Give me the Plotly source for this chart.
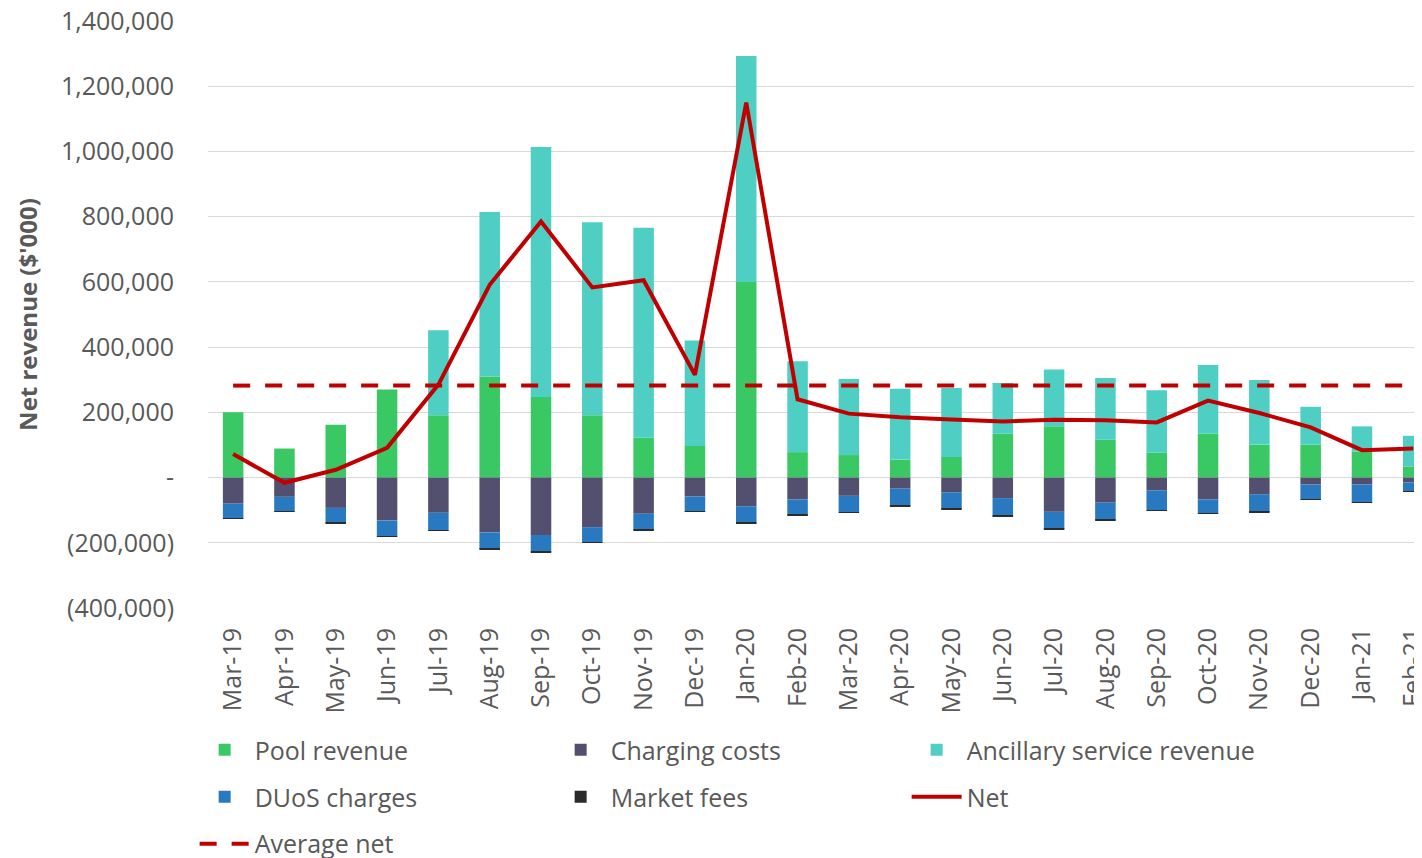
import plotly.graph_objects as go

months = ["Mar-19", "Apr-19", "May-19", "Jun-19", "Jul-19", "Aug-19", "Sep-19", "Oct-19",
          "Nov-19", "Dec-19", "Jan-20", "Feb-20", "Mar-20", "Apr-20", "May-20", "Jun-20",
          "Jul-20", "Aug-20", "Sep-20", "Oct-20", "Nov-20", "Dec-20", "Jan-21", "Feb-21"]

pool_revenue = [200000, 89000, 162000, 270000, 191000, 310000, 247000, 191000,
                122000, 97000, 600000, 78000, 69000, 55000, 63000, 134000,
                157000, 116000, 76000, 134000, 101000, 101000, 80000, 34000]

ancillary_revenue = [0, 0, 0, 0, 261000, 504000, 767000, 592000,
                     644000, 323000, 693000, 279000, 233000, 217000, 212000, 156000,
                     174000, 189000, 192000, 211000, 198000, 116000, 77000, 94000]

charging_costs = [-80000, -59000, -93000, -132000, -108000, -168000, -176000, -152000,
                  -111000, -58000, -88000, -67000, -56000, -34000, -45000, -63000,
                  -105000, -77000, -39000, -67000, -51000, -21000, -21000, -15000]

duos_charges = [-45000, -44000, -46000, -48000, -54000, -51000, -51000, -46000,
                -49000, -46000, -51000, -47000, -50000, -52000, -50000, -54000,
                -52000, -52000, -62000, -42000, -54000, -45000, -54000, -27000]

market_fees = [-1500, -1500, -1500, -1500, -1500, -1500, -1500, -1500,
               -1500, -1500, -1500, -1500, -1500, -1500, -1500, -1500,
               -1500, -1500, -1500, -1500, -1500, -1500, -1500, -1500]

net = [72000, -16000, 24000, 91000, 285000, 591000, 785000, 583000,
       605000, 315000, 1150000, 240000, 196000, 185000, 178000, 172000,
       177000, 176000, 169000, 236000, 198000, 154000, 84000, 89000]

average_net = 282000

y_tick_vals = [-400000, -200000, 0, 200000, 400000, 600000, 800000, 1000000, 1200000, 1400000]
y_tick_text = ["(400,000)", "(200,000)", "-", "200,000", "400,000", "600,000",
               "800,000", "1,000,000", "1,200,000", "1,400,000"]

FONT = "Open Sans"
GREY = "#595959"
RED = "#C00000"

fig = go.Figure()
fig.add_trace(go.Bar(x=months, y=pool_revenue, name="Pool revenue",
                     marker=dict(color="#3AC864", line=dict(width=0)), legend="legend"))
fig.add_trace(go.Bar(x=months, y=charging_costs, name="Charging costs",
                     marker=dict(color="#534F6E", line=dict(width=0)), legend="legend"))
fig.add_trace(go.Bar(x=months, y=ancillary_revenue, name="Ancillary service revenue",
                     marker=dict(color="#4FCFC4", line=dict(width=0)), legend="legend"))
fig.add_trace(go.Bar(x=months, y=duos_charges, name="DUoS charges",
                     marker=dict(color="#2879BF", line=dict(width=0)), legend="legend2"))
fig.add_trace(go.Bar(x=months, y=market_fees, name="Market fees",
                     marker=dict(color="#2B2B2B", line=dict(width=0)), legend="legend2"))
fig.add_trace(go.Scatter(x=months, y=net, name="Net", mode="lines",
                         line=dict(color=RED, width=4), legend="legend2"))
fig.add_trace(go.Scatter(x=months, y=[average_net] * len(months), name="Average net",
                         mode="lines", line=dict(color=RED, width=4, dash="17px,15px"),
                         legend="legend3"))

leg_common = dict(orientation="h", xanchor="left", yanchor="middle",
                  font=dict(family=FONT, size=25, color=GREY),
                  entrywidth=291, entrywidthmode="pixels", itemwidth=50,
                  bgcolor="rgba(0,0,0,0)", traceorder="normal")

fig.update_layout(
    width=1414, height=850,
    margin=dict(l=200, r=0, t=13, b=250, autoexpand=False),
    paper_bgcolor="white", plot_bgcolor="white",
    barmode="relative", bargap=0.6,
    font=dict(family=FONT, color=GREY),
    showlegend=True,
    legend=dict(x=-0.011, y=-0.242, **leg_common),
    legend2=dict(x=-0.011, y=-0.322, **leg_common),
    legend3=dict(x=-0.011, y=-0.402, **leg_common),
    xaxis=dict(range=[-0.49, 23.17], tickangle=-90, showgrid=False, showline=False,
               ticks="", tickfont=dict(family=FONT, size=25, color=GREY),
               ticklabelstandoff=14, automargin=False, ticklabeloverflow="allow"),
    yaxis=dict(range=[-400000, 1400000], tickvals=y_tick_vals, ticktext=y_tick_text,
               showgrid=True, gridcolor="#D9D9D9", gridwidth=1,
               zeroline=True, zerolinecolor="#D9D9D9", zerolinewidth=1,
               showline=False, ticks="", ticklabelstandoff=33,
               ticklabeloverflow="allow",
               tickfont=dict(family=FONT, size=25, color=GREY), automargin=False,
               title=dict(text="<b>Net revenue ($'000)</b>", standoff=16,
                          font=dict(family=FONT, size=24, color=GREY))),
)

fig.write_html("out.html")
